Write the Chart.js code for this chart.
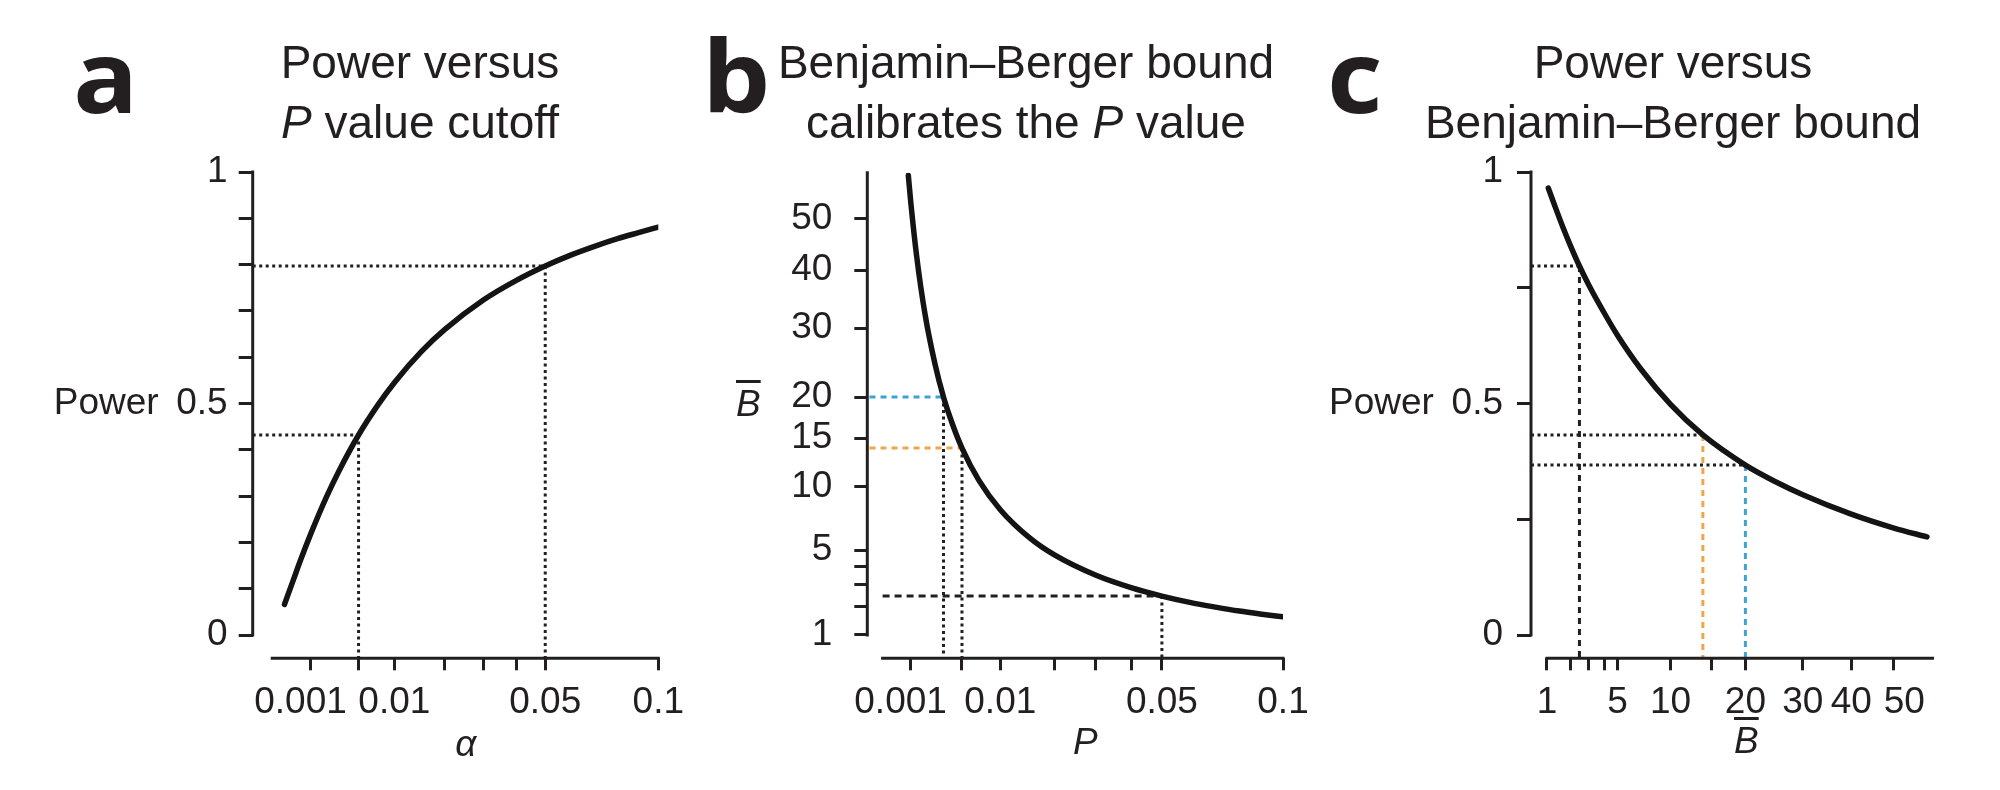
<!DOCTYPE html>
<html><head><meta charset="utf-8">
<script src="https://cdn.jsdelivr.net/npm/chart.js@4.4.1/dist/chart.umd.min.js"></script>
<style>
html,body{margin:0;padding:0;background:#fff;}
#stage{position:relative;width:2000px;height:790px;overflow:hidden;background:#fff;}
canvas{position:absolute;top:0;}
.title{position:absolute;width:700px;text-align:center;font-family:'Liberation Sans',Arial,sans-serif;font-size:46px;line-height:59.5px;color:#231f20;white-space:nowrap;}
.letter{position:absolute;font-family:'Open Sans','DejaVu Sans',sans-serif;font-weight:700;font-size:100px;line-height:1;color:#231f20;transform:scaleX(1.08);transform-origin:0 0;}
.bbar{position:absolute;font-family:'Liberation Sans',Arial,sans-serif;font-size:37px;line-height:1;font-style:italic;text-decoration:overline;text-decoration-thickness:3px;color:#231f20;}
</style></head>
<body><div id="stage">
<canvas id="ca" width="700" height="790" style="left:0px"></canvas>
<canvas id="cb" width="640" height="790" style="left:700px"></canvas>
<canvas id="cc" width="710" height="790" style="left:1290px"></canvas>
<div class="letter" style="left:73px;top:24px">a</div>
<div class="letter" style="left:702px;top:24px">b</div>
<div class="letter" style="left:1327px;top:24px">c</div>
<div class="title" style="left:70px;top:33px">Power versus<br><i>P</i> value cutoff</div>
<div class="title" style="left:676px;top:33px">Benjamin–Berger bound<br>calibrates the <i>P</i> value</div>
<div class="title" style="left:1323px;top:33px">Power versus<br>Benjamin–Berger bound</div>
<div class="bbar" style="left:736px;top:385px">B</div>
<div class="bbar" style="left:1734px;top:722px">B</div>
</div>
<script>
// ---------------- data ----------------
// Panel a: power versus P value cutoff alpha
const alphaA = [0.0001, 0.0003, 0.0005, 0.001, 0.002, 0.003, 0.005, 0.0075, 0.01, 0.015, 0.02, 0.03, 0.04, 0.05, 0.06, 0.07, 0.08, 0.09, 0.1];
const powerA = [0.066, 0.119, 0.156, 0.219, 0.300, 0.355, 0.432, 0.497, 0.545, 0.613, 0.660, 0.724, 0.766, 0.797, 0.821, 0.840, 0.856, 0.869, 0.881];
const refAlphaA = [0.005, 0.05];
const refPowerA = [0.432, 0.797];

// Panel b: Benjamin-Berger bound versus P
const pB = [0.00088, 0.001, 0.0013, 0.0018, 0.0025, 0.0032, 0.004, 0.005, 0.007, 0.01, 0.015, 0.02, 0.03, 0.04, 0.05, 0.06, 0.07, 0.08, 0.09, 0.1];
const bB = [59.4, 53.3, 42.6, 32.3, 24.6, 20.0, 16.7, 13.9, 10.6, 8.0, 5.84, 4.70, 3.50, 2.86, 2.46, 2.18, 1.98, 1.82, 1.70, 1.60];
const refPB = [0.0032, 0.005, 0.05];
const refBB = [20, 13.9, 2.46];

// Panel c: power versus Benjamin-Berger bound
const bC = [1.05, 1.3, 1.65, 2, 2.46, 3, 4, 5, 7, 10, 13.9, 20, 25, 30, 40, 50, 58.5];
const powerC = [0.965, 0.926, 0.879, 0.840, 0.797, 0.756, 0.696, 0.647, 0.574, 0.498, 0.432, 0.367, 0.331, 0.303, 0.261, 0.231, 0.212];
const refBC = [2.46, 13.9, 20];
const refPowerC = [0.797, 0.432, 0.367];

// ticks
const pTicks = [0.001, 0.005, 0.01, 0.02, 0.03, 0.04, 0.05, 0.1];
const pTickLabels = ['0.001  ', '', '0.01', '', '', '', '0.05', '0.1'];
const powerTicksA = [0, 0.1, 0.2, 0.3, 0.4, 0.5, 0.6, 0.7, 0.8, 0.9, 1];
const powerTickLabelsA = ['0', '', '', '', '', 'Power\u2009 0.5', '', '', '', '', '1'];
const bTicks = [1, 2, 3, 4, 5, 10, 15, 20, 30, 40, 50];
const bTickLabelsY = ['1', '', '', '', '5', '10', '15', '20', '30', '40', '50'];
const bTickLabelsX = ['1', '', '', '', '5', '10', '', '20', '30', '40', '  50'];
const powerTicksC = [0, 0.25, 0.5, 0.75, 1];
const powerTickLabelsC = ['0', '', 'Power\u2009 0.5', '', '1'];

// ---------------- styling ----------------
const INK = '#231f20';
const CURVE = '#141414';
const BLUE = '#3aa5d3';
const ORANGE = '#efa54a';
const FONT = "'Liberation Sans', Arial, sans-serif";
const DOT = [3, 3.5];
const DASH = [7, 5];
const CDASH = [6, 5];

const sq = v => Math.sqrt(v);
const id = v => v;

const axisLines = {
  id: 'axisLines',
  afterDraw(chart, args, o) {
    const {ctx, chartArea, scales: {x, y}} = chart;
    ctx.save();
    ctx.strokeStyle = INK;
    ctx.lineWidth = 3;
    ctx.lineCap = 'square';
    ctx.beginPath();
    ctx.moveTo(x.getPixelForValue(o.x[0]), chartArea.bottom);
    ctx.lineTo(x.getPixelForValue(o.x[1]), chartArea.bottom);
    ctx.moveTo(chartArea.left, y.getPixelForValue(o.y[0]));
    ctx.lineTo(chartArea.left, y.getPixelForValue(o.y[1]));
    ctx.stroke();
    ctx.restore();
  }
};

function axisOpts(kind, a) {
  const o = {
    type: 'linear',
    position: kind === 'x' ? 'bottom' : 'left',
    min: a.min, max: a.max,
    afterBuildTicks: s => { s.ticks = a.tickVals.map(v => ({value: a.tf(v)})); },
    afterFit: s => { if (kind === 'x') s.height = a.size; else s.width = a.size; },
    border: {display: false},
    grid: {display: true, drawOnChartArea: false, drawTicks: true, tickLength: a.tickLen, lineWidth: 3, color: INK},
    ticks: {autoSkip: false, maxRotation: 0, minRotation: 0, padding: a.pad, color: INK,
            font: {family: FONT, size: 37}, callback: (v, i) => a.tickLabels[i]},
    title: {display: false}
  };
  if (a.title) {
    o.title = {display: true, text: a.title, color: INK,
               font: {family: FONT, size: 37, style: 'italic'}, padding: {top: 0, bottom: a.titlePad}};
  }
  return o;
}

function curve(xs, ys, tx, ty) {
  return {data: xs.map((v, i) => ({x: tx(v), y: ty(ys[i])})), showLine: true, borderColor: CURVE,
          borderWidth: 5.5, pointRadius: 0, cubicInterpolationMode: 'monotone', borderCapStyle: 'round', order: 0};
}
function seg(pts, color, dash) {
  return {data: pts, showLine: true, borderColor: color, borderWidth: 3, borderDash: dash,
          borderCapStyle: 'butt', pointRadius: 0, tension: 0, order: 1};
}

function panel(canvasId, cfg) {
  return new Chart(document.getElementById(canvasId), {
    type: 'scatter',
    data: {datasets: cfg.datasets},
    options: {
      responsive: false, animation: false, devicePixelRatio: 1,
      layout: {padding: cfg.padding},
      plugins: {legend: {display: false}, tooltip: {enabled: false}, axisLines: cfg.axis},
      scales: {x: axisOpts('x', cfg.x), y: axisOpts('y', cfg.y)}
    },
    plugins: [axisLines]
  });
}

// ---------------- panel a ----------------
const AXMIN = -0.016, AYMIN = -0.0503;
const dsA = [curve(alphaA, powerA, sq, id)];
refAlphaA.forEach((a, i) => {
  dsA.push(seg([{x: AXMIN, y: refPowerA[i]}, {x: sq(a), y: refPowerA[i]}], INK, DOT));
  dsA.push(seg([{x: sq(a), y: refPowerA[i]}, {x: sq(a), y: AYMIN}], INK, DOT));
});
panel('ca', {
  datasets: dsA,
  padding: {top: 172, left: 0, right: 41.7, bottom: 0},
  axis: {x: [0, sq(0.1)], y: [0, 1]},
  x: {min: AXMIN, max: sq(0.1), tickVals: pTicks, tickLabels: pTickLabels, tf: sq, size: 131.7, tickLen: 12, pad: 10, title: '  α', titlePad: 22},
  y: {min: AYMIN, max: 1, tickVals: powerTicksA, tickLabels: powerTickLabelsA, tf: id, size: 252.7, tickLen: 14, pad: 11}
});

// ---------------- panel b ----------------
const BXMIN = -0.0017, BYMIN = 0.66;
const dsB = [curve(pB, bB, sq, sq)];
const bColors = [BLUE, ORANGE, INK];
const bStarts = [0, 0, sq(0.0001)];
refPB.forEach((p, i) => {
  dsB.push(seg([{x: bStarts[i], y: sq(refBB[i])}, {x: sq(p), y: sq(refBB[i])}], bColors[i], i < 2 ? CDASH : DASH));
  dsB.push(seg([{x: sq(p), y: sq(refBB[i])}, {x: sq(p), y: BYMIN}], INK, DOT));
});
panel('cb', {
  datasets: dsB,
  padding: {top: 172.7, left: 0, right: 57, bottom: 0},
  axis: {x: [sq(0.0001), sq(0.1)], y: [1, sq(60)]},
  x: {min: BXMIN, max: sq(0.1), tickVals: pTicks, tickLabels: pTickLabels, tf: sq, size: 131.7, tickLen: 12, pad: 10, title: '  P', titlePad: 24},
  y: {min: BYMIN, max: sq(60), tickVals: bTicks, tickLabels: bTickLabelsY, tf: sq, size: 167.3, tickLen: 13, pad: 22}
});

// ---------------- panel c ----------------
const CXMIN = 0.721, CYMIN = -0.0503;
const dsC = [curve(bC, powerC, sq, id)];
const cColors = [INK, ORANGE, BLUE];
refBC.forEach((b, i) => {
  dsC.push(seg([{x: CXMIN, y: refPowerC[i]}, {x: sq(b), y: refPowerC[i]}], INK, DOT));
  dsC.push(seg([{x: sq(b), y: refPowerC[i]}, {x: sq(b), y: CYMIN}], cColors[i], CDASH));
});
panel('cc', {
  datasets: dsC,
  padding: {top: 172, left: 0, right: 67.5, bottom: 0},
  axis: {x: [1, sq(60)], y: [0, 1]},
  x: {min: CXMIN, max: sq(60), tickVals: bTicks, tickLabels: bTickLabelsX, tf: sq, size: 131.7, tickLen: 12, pad: 10},
  y: {min: CYMIN, max: 1, tickVals: powerTicksC, tickLabels: powerTickLabelsC, tf: id, size: 241, tickLen: 14, pad: 14}
});
</script>
</body></html>
